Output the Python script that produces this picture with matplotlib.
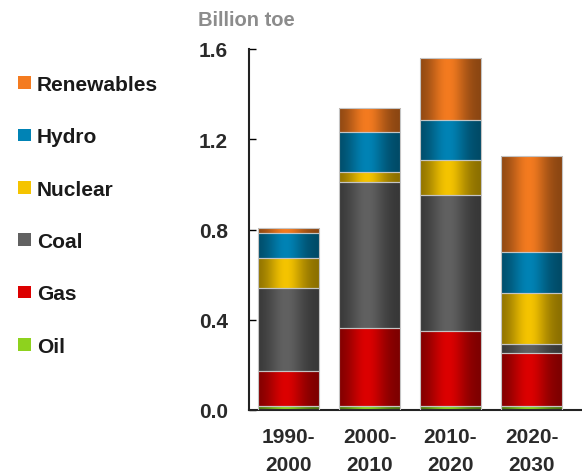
import matplotlib
matplotlib.use("AGG")
import matplotlib.pyplot as plt
from matplotlib.patches import Patch
from matplotlib.colors import to_rgb
import numpy as np

plt.rcParams['font.family'] = ['Liberation Sans', 'DejaVu Sans']

periods = ["1990-\n2000", "2000-\n2010", "2010-\n2020", "2020-\n2030"]
sources = ["Oil", "Gas", "Coal", "Nuclear", "Hydro", "Renewables"]
# billion toe added per decade, by source
oil = [0.016, 0.016, 0.016, 0.016]
gas = [0.155, 0.346, 0.336, 0.235]
coal = [0.368, 0.650, 0.602, 0.041]
nuclear = [0.133, 0.041, 0.154, 0.226]
hydro = [0.111, 0.178, 0.179, 0.181]
renewables = [0.022, 0.107, 0.271, 0.425]
colors = ["#8ed21e", "#dc0000", "#616161", "#f5c400", "#0083b5", "#f47b20"]

series = [oil, gas, coal, nuclear, hydro, renewables]

fig = plt.figure(figsize=(5.82, 4.77), dpi=100)
ax = fig.add_axes([249/582, 1-411/477, 1-249/582, (411-50)/477])

x = np.arange(len(periods))
width = 0.76

# cylinder-like shading across each bar
t = np.linspace(0, 1, 64)
shade = 0.55 + 0.45*np.exp(-((t-0.45)/0.3)**2)

bottom = np.zeros(len(periods))
for vals, col in zip(series, colors):
    bars = ax.bar(x, vals, width, bottom=bottom, facecolor='none',
                  edgecolor='#c4c4c4', linewidth=0.8, zorder=3)
    base = np.array(to_rgb(col))
    img = np.clip(base[None, None, :]*shade[None, :, None], 0, 1)
    for p in bars:
        x0, y0 = p.get_x(), p.get_y()
        im = ax.imshow(img, extent=(x0, x0+p.get_width(), y0, y0+p.get_height()),
                       aspect='auto', interpolation='bilinear', zorder=2)
        im.set_clip_path(p)
    bottom = bottom + np.array(vals)

ax.set_xlim(-(288.5-249)/81, -(288.5-249)/81 + 333/81)
ax.set_ylim(0, 1.6)
ax.set_yticks([0, 0.4, 0.8, 1.2, 1.6])
ax.set_yticklabels(["%.1f" % v for v in [0, 0.4, 0.8, 1.2, 1.6]])
ax.set_xticks(x)
ax.set_xticklabels(periods, linespacing=1.6)

for s in ['top', 'right']:
    ax.spines[s].set_visible(False)
for s in ['left', 'bottom']:
    ax.spines[s].set_linewidth(1.5)
    ax.spines[s].set_color('#222222')

ax.tick_params(axis='y', direction='in', length=5, width=1, pad=15,
               labelsize=15, labelcolor='#2a2a2a')
ax.tick_params(axis='x', length=0, pad=12, labelsize=15, labelcolor='#2a2a2a')
for lab in ax.get_xticklabels() + ax.get_yticklabels():
    lab.set_fontweight('bold')

fig.text(198/582, 1-20/477, "Billion toe", ha='left', va='center',
         fontsize=14.5, fontweight='bold', color='#8c8c8c')

handles = [Patch(facecolor=c, edgecolor='none') for c in colors][::-1]
fig.legend(handles, sources[::-1], loc='upper left',
           bbox_to_anchor=(18/582, 1-76/477), frameon=False,
           handlelength=0.6, handleheight=0.55, handletextpad=0.3,
           labelspacing=1.6, borderpad=0, borderaxespad=0,
           prop={'size': 15, 'weight': 'bold'}, labelcolor='#1a1a1a')

plt.savefig("out.png", dpi=100)
